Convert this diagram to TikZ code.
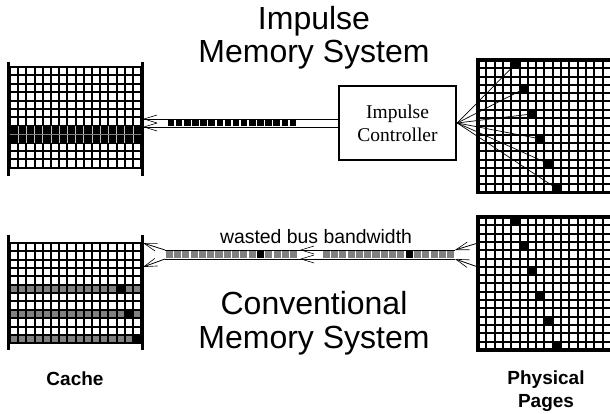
\documentclass[tikz,border=0pt]{standalone}
\usepackage{fontspec}
\setmainfont{Liberation Serif}
\setsansfont{Liberation Sans}
\usetikzlibrary{arrows.meta}

\begin{document}
\begin{tikzpicture}[x=1pt,y=-1pt,
  gridline/.style={line width=2pt},
  bar/.style={line width=3.2pt},
  frame/.style={line width=3.4pt},
  bus/.style={line width=0.8pt},
  tip/.style={-{Straight Barb[length=13pt,width=8pt,line width=0.6pt]}},
  ctrlbox/.style={rectangle,draw,line width=2.5pt,minimum width=117pt,minimum height=74pt,
                  align=center,font=\fontsize{19.5}{23}\selectfont},
  title/.style={anchor=base,font=\sffamily\fontsize{32}{36}\selectfont},
  caption/.style={anchor=base,font=\sffamily\bfseries\fontsize{19}{22}\selectfont},
  word/.style={rectangle,fill=black,inner sep=0pt,minimum size=8.3pt}]
\useasboundingbox (0,0) rectangle (610,414);

% titles
\node[title] (t1) at (314,30) {Impulse};
\node[title] (t2) at (314,63) {Memory System};
\node[title] (t3) at (314,314) {Conventional};
\node[title] (t4) at (314,348) {Memory System};
\node[caption] (lc) at (75,385) {Cache};
\node[caption] (lp1) at (546,384) {Physical};
\node[caption] (lp2) at (546,407) {Pages};

% cache, impulse
\draw[bar] (8.5,62) -- (8.5,176) (142.5,62) -- (142.5,176);
\foreach \i in {0,...,16} \draw[gridline] ({10+\i*8.2},67) -- ({10+\i*8.2},167.8);
\foreach \j in {0,...,12} \draw[gridline] (10,{67+\j*8.4}) -- (141.2,{67+\j*8.4});
\fill (10,125.2) rectangle (141.2,143.2);
\foreach \i in {1,...,15} \draw[gray!50,line width=0.8pt] ({10+\i*8.2},126) -- ({10+\i*8.2},142.6);
\draw[gray,line width=0.8pt] (10,134.2) -- (141.2,134.2);

% controller and bus
\node[ctrlbox] (ctrl) at (397.5,123) {Impulse\\Controller};
\coordinate (ca) at (143,119);
\coordinate (cb) at (143,127);
\draw[bus,tip] (ctrl.west |- ca) -- (ca);
\draw[bus,tip] (ctrl.west |- cb) -- (cb);
\foreach \i in {0,...,15} \fill ({167+\i*8.125+0.8},120.5) rectangle ({167+(\i+1)*8.125-0.8},126);

% physical pages, impulse
\foreach \i in {0,...,16} \draw[gridline] ({478+\i*8.3},60) -- ({478+\i*8.3},192.8);
\foreach \j in {0,...,16} \draw[gridline] (478,{60+\j*8.3}) -- (611,{60+\j*8.3});
\draw[frame] (612,60) -- (478,60) -- (478,192.8) -- (612,192.8);
\foreach \k in {0,...,5} {
  \node[word] (p\k) at ({478+(4+\k)*8.3+4.15},{60+3*\k*8.3+4.15}) {};
  \draw[line width=0.7pt] (ctrl.east) -- (p\k);
}

% cache, conventional
\draw[bar] (8.5,235) -- (8.5,350) (142.5,235) -- (142.5,350);
\foreach \j in {5,8,11} \fill[gray] (10,{243+\j*8.35}) rectangle (141.2,{243+(\j+1)*8.35});
\fill (10+13*8.2,243+5*8.35) rectangle ++(8.2,8.35);
\fill (10+14*8.2,243+8*8.35) rectangle ++(8.2,8.35);
\fill (10+15*8.2,243+11*8.35) rectangle ++(8.2,8.35);
\foreach \i in {0,...,16} \draw[gridline] ({10+\i*8.2},243) -- ({10+\i*8.2},343.2);
\foreach \j in {0,...,12} \draw[gridline] (10,{243+\j*8.35}) -- (141.2,{243+\j*8.35});

% physical pages, conventional
\foreach \i in {0,...,16} \draw[gridline] ({478+\i*8.3},217) -- ({478+\i*8.3},349.8);
\foreach \j in {0,...,16} \draw[gridline] (478,{217+\j*8.3}) -- (611,{217+\j*8.3});
\draw[frame] (612,217) -- (478,217) -- (478,349.8) -- (612,349.8);
\foreach \k in {0,...,5} \node[word] (q\k) at ({478+(4+\k)*8.3+4.15},{217+3*\k*8.3+4.15}) {};

% conventional bus
\node[font=\sffamily\fontsize{19.4}{22}\selectfont,anchor=base] (wb) at (316,243) {wasted bus bandwidth};
\coordinate (da) at (143,243);
\coordinate (db) at (143,267);
\coordinate (pa) at (478,243);
\coordinate (pb) at (478,267);
\coordinate (ma) at (300,250);
\coordinate (mb) at (300,259);
\draw[bus] (165,250) -- (455,250) (165,259) -- (455,259);
\draw[bus,tip] (165,250) -- (da);
\draw[bus,tip] (165,259) -- (db);
\draw[bus,tip] (322,250) -- (ma);
\draw[bus,tip] (322,259) -- (mb);
\draw[bus,tip] (pa) -- (455,250);
\draw[bus,tip] (pb) -- (455,259);
\foreach \i in {0,...,15} {
  \fill[gray] ({165+\i*8.3+0.6},251) rectangle ({165+(\i+1)*8.3-0.6},258.2);
  \fill[gray] ({322+\i*8.3+0.6},251) rectangle ({322+(\i+1)*8.3-0.6},258.2);
}
\fill ({165+11*8.3+0.6},251) rectangle ({165+12*8.3-0.6},258.2);
\fill ({322+10*8.3+0.6},251) rectangle ({322+11*8.3-0.6},258.2);
\end{tikzpicture}
\end{document}
